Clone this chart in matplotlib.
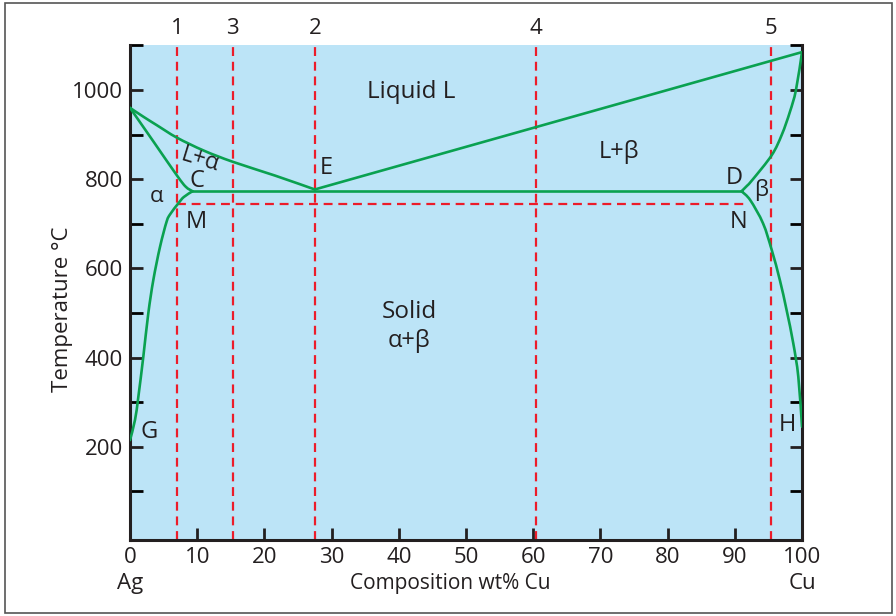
import matplotlib
matplotlib.use("Agg")
import matplotlib.pyplot as plt
import numpy as np
from matplotlib.patches import Rectangle, PathPatch
from matplotlib.path import Path

plt.rcParams['font.family'] = ['Open Sans', 'DejaVu Sans']

# phase boundaries (wt% Cu, deg C)
liq_left_x = [0, 2, 4, 7, 11, 15.3, 21.6, 27.5]
liq_left_t = [960, 940, 921, 893, 864, 839, 808, 777]
liq_right_x = [27.5, 100]
liq_right_t = [777, 1085]
sol_left_x = [0, 3.6, 7.0, 8.3, 9.3]
sol_left_t = [960, 882, 808, 783, 773]
solv_left_x = [9.3, 8.0, 7.2, 6.0, 5.45, 4.46, 3.47, 2.72, 1.98, 1.24, 0.74, 0]
solv_left_t = [773, 760, 746, 722, 705, 648, 574, 499, 402, 312, 260, 215]
sol_right_x = [91.0, 91.8, 92.7, 95.5, 97.0, 98.2, 99.1, 100]
sol_right_t = [773, 785, 800, 854, 900, 951, 1000, 1085]
solv_right_x = [91.0, 92.3, 94.2, 95.5, 96.7, 97.7, 98.7, 99.45, 100]
solv_right_t = [773, 753, 701, 641, 574, 507, 432, 357, 245]
eutectic_x = [9.3, 91.0]
eutectic_t = 773

# cooling paths
path_x = [7.0, 15.3, 27.5, 60.4, 95.4]
path_names = ['1', '3', '2', '4', '5']
mn_x = [7.0, 91.8]
mn_t = 744

blue = '#bce4f7'
green = '#0aa150'
red = '#ec1c2a'
ink = '#231f20'


def smooth_path(xs, ts):
    # catmull-rom through the read points, drawn as cubic beziers
    p = np.column_stack([xs, ts]).astype(float)
    if len(p) == 2:
        return Path(p)
    verts = [p[0]]
    codes = [Path.MOVETO]
    for i in range(len(p) - 1):
        p0 = p[i - 1] if i > 0 else p[i]
        p1, p2 = p[i], p[i + 1]
        p3 = p[i + 2] if i + 2 < len(p) else p[i + 1]
        verts += [p1 + (p2 - p0) / 6, p2 - (p3 - p1) / 6, p2]
        codes += [Path.CURVE4] * 3
    return Path(verts, codes)


fig = plt.figure(figsize=(8.96, 6.16), dpi=100)
ax = fig.add_axes([0.1451, 0.1234, 0.75, 0.8036])
ax.set_facecolor(blue)
ax.set_xlim(0, 100)
ax.set_ylim(-9, 1101)

for px in path_x:
    ax.plot([px, px], [-9, 1101], color=red, lw=1.6, dashes=(4, 2.6), zorder=2)
ax.plot(mn_x, [mn_t, mn_t], color=red, lw=1.6, dashes=(4, 2.6), zorder=2)

lw = 1.9
for xs, ts in [(liq_left_x, liq_left_t), (liq_right_x, liq_right_t),
               (sol_left_x, sol_left_t), (solv_left_x, solv_left_t),
               (sol_right_x, sol_right_t), (solv_right_x, solv_right_t)]:
    ax.add_patch(PathPatch(smooth_path(xs, ts), fill=False, edgecolor=green,
                           lw=lw, zorder=3, capstyle='round'))
ax.plot(eutectic_x, [eutectic_t, eutectic_t], color=green, lw=lw, zorder=3)

fs = 16
for px, name in zip(path_x, path_names):
    ax.text(px, 1139, name, ha='center', va='center', fontsize=fs, color=ink, clip_on=False)

labels = [
    (41.8, 996, 'Liquid L', 0, 17.5),
    (72.8, 861, 'L+β', 0, 17),
    (10.4, 843, 'L+α', -17, 16.5),
    (10.0, 796, 'C', 0, 17),
    (29.2, 825, 'E', 0, 17),
    (3.9, 762, 'α', 0, 16),
    (9.8, 704, 'M', 0, 17),
    (89.9, 803, 'D', 0, 17),
    (93.9, 776, 'β', 0, 16),
    (90.6, 704, 'N', 0, 17),
    (41.5, 502, 'Solid', 0, 17.5),
    (41.5, 437, 'α+β', 0, 17),
    (2.8, 233, 'G', 0, 17),
    (97.8, 249, 'H', 0, 17),
]
for x, t, s, rot, size in labels:
    ax.text(x, t, s, ha='center', va='center', fontsize=size, color=ink, rotation=rot)

ax.set_xticks(range(0, 101, 10))
ax.set_yticks([200, 400, 600, 800, 1000])
ax.set_yticks(range(100, 1101, 100), minor=True)
ax.tick_params(axis='both', direction='in', length=9, width=2, colors=ink,
               labelsize=fs, pad=5)
ax.tick_params(axis='y', which='both', left=True, right=True, direction='in',
               length=9, width=2)
ax.tick_params(axis='x', top=False)
for side in ['left', 'right', 'bottom']:
    ax.spines[side].set_linewidth(2.2)
    ax.spines[side].set_color(ink)
ax.spines['top'].set_visible(False)

ax.text(-10.1, 509, 'Temperature °C', rotation=90, ha='center', va='center',
        fontsize=fs, color=ink, clip_on=False)
ax.text(47.6, -106, 'Composition wt% Cu', ha='center', va='center',
        fontsize=15, color=ink, clip_on=False)
ax.text(0, -106, 'Ag', ha='center', va='center', fontsize=fs, color=ink, clip_on=False)
ax.text(100, -106, 'Cu', ha='center', va='center', fontsize=fs, color=ink, clip_on=False)

fig.patches.append(Rectangle((0.006, 0.005), 0.99, 0.99, transform=fig.transFigure,
                             fill=False, edgecolor='#555555', lw=1.2))

fig.savefig('out.png', dpi=100)
